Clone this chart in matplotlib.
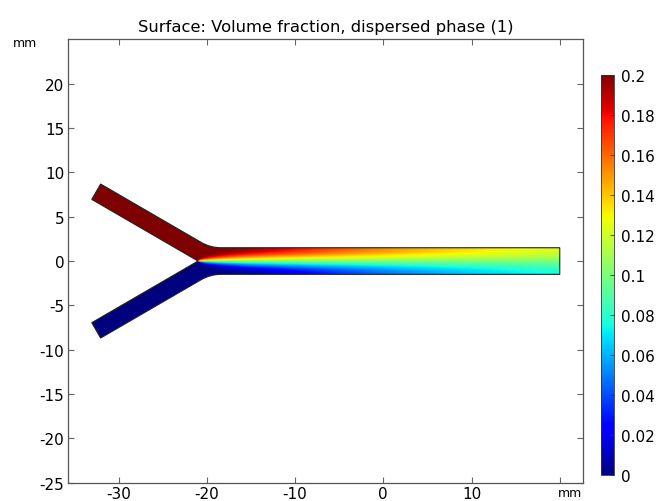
import numpy as np
import matplotlib
matplotlib.use("Agg")
import matplotlib.pyplot as plt
from matplotlib.path import Path
from matplotlib.patches import PathPatch

plt.rcParams["axes.unicode_minus"] = False
plt.rcParams["font.family"] = "DejaVu Sans"

# Geometry (mm)
JUNCTION_X = -21.0
ARM_ANGLE_DEG = 30.0
ARM_WIDTH = 2.0
ARM_LENGTH = 13.9
CHANNEL_HALF = 1.5
OUTLET_END = 20.0
FILLET = 1.2

# Volume fraction at the two inlets, and mixing length (D/U, mm)
INLET_TOP = 0.2
INLET_BOTTOM = 0.0
MIX_LENGTH = 0.038
N_MODES = 80

VMIN, VMAX = 0.0, 0.2
CBAR_TICKS = [0, 0.02, 0.04, 0.06, 0.08, 0.1, 0.12, 0.14, 0.16, 0.18, 0.2]
CBAR_LABELS = ["0", "0.02", "0.04", "0.06", "0.08", "0.1", "0.12", "0.14", "0.16", "0.18", "0.2"]
X_TICKS = [-30, -20, -10, 0, 10, 20]
X_LABELS = ["-30", "-20", "-10", "0", "10", ""]
Y_TICKS = [-25, -20, -15, -10, -5, 0, 5, 10, 15, 20]

XLIM = (-35.7, 22.6)
YLIM = (-25, 25)


def build_outline():
    a = np.deg2rad(ARM_ANGLE_DEG)
    d = np.array([-np.cos(a), np.sin(a)])      # along arm, outward
    n = np.array([np.sin(a), np.cos(a)])       # arm normal, up/right
    J = np.array([JUNCTION_X, 0.0])
    O = J + ARM_WIDTH * n
    s = (O[1] - CHANNEL_HALF) / np.sin(a)
    P = O - s * d
    A = O + ARM_LENGTH * d
    B = J + ARM_LENGTH * d
    F1 = P + FILLET * d
    F2 = P + np.array([FILLET, 0.0])

    def flip(p):
        return np.array([p[0], -p[1]])

    verts = [F2, (OUTLET_END, CHANNEL_HALF), (OUTLET_END, -CHANNEL_HALF), flip(F2),
             flip(P), flip(F1), flip(A), flip(B), J, B, A, F1, P, F2, F2]
    codes = [Path.MOVETO, Path.LINETO, Path.LINETO, Path.LINETO,
             Path.CURVE3, Path.CURVE3, Path.LINETO, Path.LINETO, Path.LINETO,
             Path.LINETO, Path.LINETO, Path.LINETO, Path.CURVE3, Path.CURVE3,
             Path.CLOSEPOLY]
    return Path(np.array(verts, dtype=float), codes)


def mixing_field(X, Y):
    # cosine series solution of the two-stream diffusion in the outlet channel
    W = 2 * CHANNEL_HALF
    mean = 0.5 * (INLET_TOP + INLET_BOTTOM)
    t = np.clip(X - JUNCTION_X, 0, None)
    s = np.clip(Y, -CHANNEL_HALF, CHANNEL_HALF) + CHANNEL_HALF
    c = np.full(X.shape, mean)
    for k in range(1, N_MODES + 1):
        a_k = -(INLET_TOP - INLET_BOTTOM) * 2 * np.sin(k * np.pi / 2) / (k * np.pi)
        c += a_k * np.cos(k * np.pi * s / W) * np.exp(-MIX_LENGTH * (k * np.pi / W) ** 2 * t)
    arms = np.where(Y > 0, INLET_TOP, INLET_BOTTOM)
    return np.where(X <= JUNCTION_X, arms, c)


fig = plt.figure(figsize=(6.62, 5.02), dpi=100)
ax = fig.add_axes([0.1032, 0.0363, 0.7770, 0.8834])
cax = fig.add_axes([0.9083, 0.0512, 0.0192, 0.7980])

xs = np.linspace(XLIM[0], XLIM[1], 1400)
ys = np.linspace(-10, 10, 600)
XX, YY = np.meshgrid(xs, ys)
field = mixing_field(XX, YY)

outline = build_outline()
patch = PathPatch(outline, facecolor="none", edgecolor="#222222", lw=0.8, zorder=3)
ax.add_patch(patch)
im = ax.imshow(field, extent=(xs[0], xs[-1], ys[0], ys[-1]), origin="lower",
               cmap="jet", vmin=VMIN, vmax=VMAX, interpolation="bilinear",
               aspect="auto", zorder=2)
im.set_clip_path(patch)

ax.set_xlim(*XLIM)
ax.set_ylim(*YLIM)
ax.set_xticks(X_TICKS, X_LABELS)
ax.set_yticks(Y_TICKS)
ax.tick_params(direction="in", top=True, right=True, length=4, width=0.8,
               color="#666666", labelsize=11)
ax.tick_params(axis="x", pad=2.5)
ax.tick_params(axis="y", pad=3)
for sp in ax.spines.values():
    sp.set_color("#555555")
    sp.set_linewidth(0.9)

ax.set_title("Surface: Volume fraction, dispersed phase (1)", fontsize=11.8, pad=6)
fig.text(0.0373, 0.914, "mm", fontsize=9, ha="center", va="center")
fig.text(0.861, 0.004, "mm", fontsize=9, ha="center", va="bottom")

cb = fig.colorbar(im, cax=cax, ticks=CBAR_TICKS)
cb.ax.set_yticklabels(CBAR_LABELS)
cb.ax.tick_params(direction="in", length=3, width=0.6, color="#333333",
                  labelsize=11, pad=5)
cb.outline.set_linewidth(0.6)
cb.outline.set_edgecolor("#333333")

fig.savefig("out.png", dpi=100)
